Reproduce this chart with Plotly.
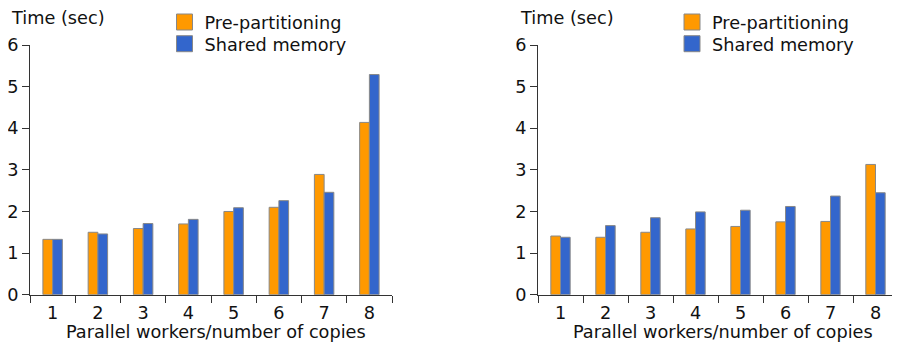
import plotly.graph_objects as go

categories = ["1", "2", "3", "4", "5", "6", "7", "8"]
left_pre = [1.33, 1.50, 1.59, 1.70, 2.00, 2.10, 2.89, 4.14]
left_shared = [1.33, 1.46, 1.71, 1.81, 2.09, 2.26, 2.46, 5.29]
right_pre = [1.41, 1.38, 1.50, 1.58, 1.64, 1.75, 1.76, 3.13]
right_shared = [1.38, 1.66, 1.85, 1.99, 2.03, 2.12, 2.37, 2.45]
y_ticks = [0, 1, 2, 3, 4, 5, 6]
series_names = ["Pre-partitioning", "Shared memory"]
x_title = "Parallel workers/number of copies"
y_title = "Time (sec)"

ORANGE = "#FF9900"
BLUE = "#3366CC"
OUTLINE = "#888888"
FONT = "DejaVu Sans"
TXT = "#111111"
FS = 17.7

W, H = 892, 336  # page body has an 8px margin in the 900x344 window

fig = go.Figure()

def add_pair(pre, shared, xa, ya, legs):
    for vals, name, col in ((pre, series_names[0], ORANGE), (shared, series_names[1], BLUE)):
        fig.add_trace(go.Bar(x=categories, y=vals, name=name, showlegend=False,
                             marker=dict(color=col, line=dict(color=OUTLINE, width=1)),
                             xaxis=xa, yaxis=ya))
    for name, col, leg in ((series_names[0], ORANGE, legs[0]), (series_names[1], BLUE, legs[1])):
        fig.add_trace(go.Scatter(x=[None], y=[None], mode="markers", name=name,
                                 marker=dict(symbol="square", size=16, color=col,
                                             line=dict(color=OUTLINE, width=1)),
                                 xaxis=xa, yaxis=ya, legend=leg, showlegend=True))

add_pair(left_pre, left_shared, "x", "y", ("legend", "legend2"))
add_pair(right_pre, right_shared, "x2", "y2", ("legend3", "legend4"))

ydom = [49.3 / H, 299 / H]
xaxis_common = dict(type="category", showline=True, linecolor="#333333", linewidth=1,
                    ticks="outside", ticklen=7, tickcolor="#333333",
                    tickson="boundaries", showgrid=False, zeroline=False,
                    ticklabelstandoff=2,
                    tickfont=dict(family=FONT, size=FS, color=TXT),
                    automargin=False, fixedrange=True)
yaxis_common = dict(range=[0, 6], tickvals=y_ticks, showline=True,
                    linecolor="#333333", linewidth=1, ticks="outside",
                    ticklen=7, tickcolor="#333333", showgrid=False,
                    zeroline=False,
                    tickfont=dict(family=FONT, size=FS, color=TXT),
                    automargin=False, fixedrange=True)

legend_common = dict(xanchor="left", yanchor="top", bgcolor="rgba(0,0,0,0)",
                     tracegroupgap=0, itemsizing="trace",
                     font=dict(family=FONT, size=FS, color=TXT), itemwidth=30)

row1, row2 = 1 + 4 / H, 1 - 17.7 / H
lx_left, lx_right = 156.5 / W, 664 / W

def text_ann(text, fx, fy, xanchor):
    return dict(text=text, x=fx / W, y=1 - fy / H, xref="paper", yref="paper",
                xanchor=xanchor, yanchor="middle", showarrow=False,
                font=dict(family=FONT, size=FS, color=TXT))

fig.update_layout(
    width=W, height=H,
    margin=dict(l=0, r=0, t=0, b=0, autoexpand=False),
    paper_bgcolor="white", plot_bgcolor="white",
    barmode="group", bargap=0.57, bargroupgap=0,
    font=dict(family=FONT, size=FS, color=TXT),
    xaxis=dict(domain=[22 / W, 384 / W], anchor="y", **xaxis_common),
    yaxis=dict(domain=ydom, anchor="x", **yaxis_common),
    xaxis2=dict(domain=[530 / W, 890 / W], anchor="y2", **xaxis_common),
    yaxis2=dict(domain=ydom, anchor="x2", **yaxis_common),
    legend=dict(x=lx_left, y=row1, **legend_common),
    legend2=dict(x=lx_left, y=row2, **legend_common),
    legend3=dict(x=lx_right, y=row1, **legend_common),
    legend4=dict(x=lx_right, y=row2, **legend_common),
    annotations=[
        text_ann(y_title, 1, 10, "left"),
        text_ann(y_title, 510, 10, "left"),
        text_ann(x_title, 208, 324, "center"),
        text_ann(x_title, 714.5, 324, "center"),
    ],
    showlegend=True,
)

fig.write_html("out.html")
